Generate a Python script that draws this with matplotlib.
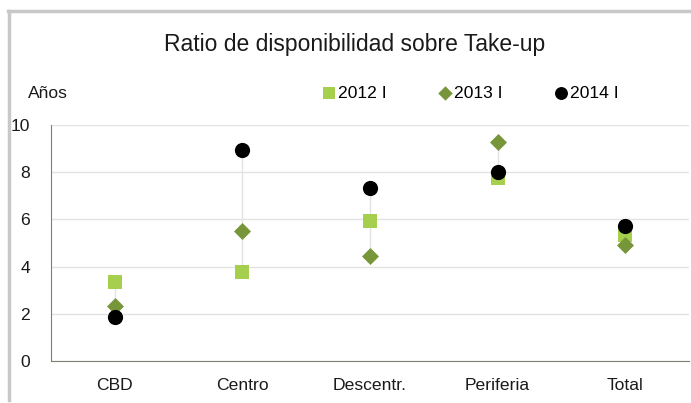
import matplotlib.pyplot as plt
from matplotlib.lines import Line2D

plt.rcParams['font.family'] = ['Liberation Sans', 'DejaVu Sans']

# datos
categorias = ["CBD", "Centro", "Descentr.", "Periferia", "Total"]
v2012 = [3.36, 3.76, 5.93, 7.75, 5.34]
v2013 = [2.34, 5.51, 4.45, 9.27, 4.92]
v2014 = [1.86, 8.93, 7.33, 8.02, 5.72]
etiquetas = ["2012 I", "2013 I", "2014 I"]

c2012 = "#a5cf4c"
c2013 = "#77963a"
c2014 = "#000000"

fig = plt.figure(figsize=(6.91, 4.03), dpi=100)
ax = fig.add_axes([51/691, 42/403, 638/691, 236/403])

x = range(len(categorias))

# lineas max-min
for i in x:
    vals = [v2012[i], v2013[i], v2014[i]]
    ax.plot([i, i], [min(vals), max(vals)], color="#e3e3e3", lw=1, zorder=1)

ax.scatter(x, v2012, marker="s", s=106, color=c2012, label=etiquetas[0], zorder=3, linewidths=0)
ax.scatter(x, v2013, marker="D", s=75, color=c2013, label=etiquetas[1], zorder=3, linewidths=0)
ax.scatter(x, v2014, marker="o", s=120, color=c2014, label=etiquetas[2], zorder=4, linewidths=0)

ax.set_xlim(-0.5, len(categorias) - 0.5)
ax.set_ylim(0, 10)
ax.set_yticks([0, 2, 4, 6, 8, 10])
ax.set_xticks(list(x))
ax.set_xticklabels(categorias)
ax.tick_params(length=0, labelsize=12.6, colors="#1a1a1a")
ax.tick_params(axis="y", pad=15)
ax.tick_params(axis="x", pad=12)
ax.grid(axis="y", color="#e3e3e3", lw=1)
ax.set_axisbelow(True)
for s in ["top", "right"]:
    ax.spines[s].set_visible(False)
ax.spines["left"].set_color("#7f7f73")
ax.spines["bottom"].set_color("#7f7f73")

fig.text(355/691, 1 - 45/403, "Ratio de disponibilidad sobre Take-up", ha="center", va="center", fontsize=16.5, color="#1a1a1a")
fig.text(28/691, 1 - 93/403, "Años", ha="left", va="center", fontsize=12.6, color="#1a1a1a")

leg = fig.legend(loc="center left", bbox_to_anchor=(323/691, 1 - 93/403), ncol=3, frameon=False,
                 fontsize=12.6, markerscale=0.85, handlelength=0.7, handletextpad=0.15,
                 columnspacing=3.0, borderpad=0, borderaxespad=0)

# marco
fig.add_artist(Line2D([8/691, 1], [1 - 11/403, 1 - 11/403], color="#c8c8c8", lw=2.5))
fig.add_artist(Line2D([8.5/691, 8.5/691], [3/403, 1 - 11/403], color="#c8c8c8", lw=2.5))

fig.savefig("out.png", dpi=100)
